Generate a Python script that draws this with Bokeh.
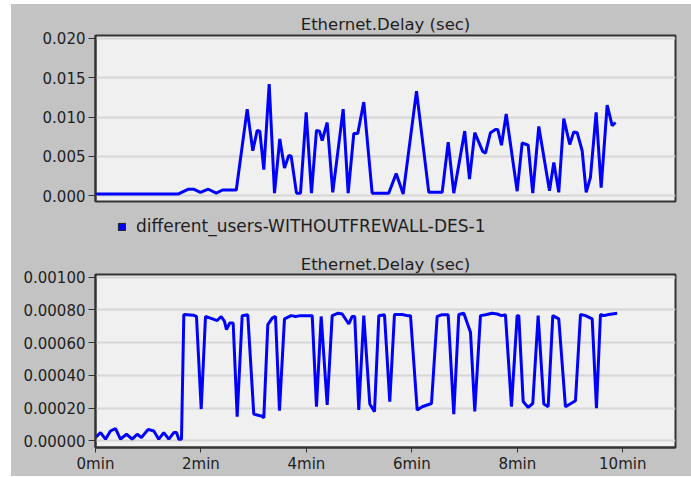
from bokeh.plotting import figure
from bokeh.models import Range1d, FixedTicker, NumeralTickFormatter, Legend, LegendItem
from bokeh.layouts import column
from bokeh.embed import file_html
from bokeh.resources import INLINE

# ---- data (time in minutes) ----
top_time = [0.0, 1.574, 1.764, 1.86, 1.99, 2.14, 2.29, 2.41, 2.67,
            2.877, 2.983, 3.067, 3.116, 3.192, 3.294, 3.395, 3.495, 3.584, 3.666, 3.711,
            3.812, 3.888, 3.996, 4.096, 4.191, 4.248, 4.299, 4.394, 4.500, 4.697,
            4.792, 4.899, 4.974, 5.088, 5.247, 5.562, 5.703, 5.835, 6.088, 6.321,
            6.575, 6.689, 6.795, 7.003, 7.093, 7.193, 7.269, 7.345, 7.396, 7.491,
            7.586, 7.63, 7.700, 7.789, 7.997, 8.092, 8.206, 8.293, 8.407, 8.610,
            8.692, 8.786, 8.881, 8.995, 9.071, 9.135, 9.230, 9.306, 9.387, 9.495,
            9.590, 9.704, 9.799, 9.862]
top_delay = [0.0002, 0.0002, 0.0008, 0.0008, 0.0004, 0.0008, 0.0003, 0.0007, 0.0007,
             0.0110, 0.0057, 0.0083, 0.0082, 0.0033, 0.0142, 0.0003, 0.0072, 0.0035, 0.0051, 0.0050,
             0.0003, 0.0003, 0.0106, 0.0003, 0.0083, 0.0082, 0.0070, 0.0093, 0.0004, 0.0110,
             0.0003, 0.0079, 0.0079, 0.0119, 0.0003, 0.0003, 0.0028, 0.0002, 0.0133, 0.0004,
             0.0004, 0.0068, 0.0003, 0.0082, 0.0021, 0.0080, 0.0068, 0.0056, 0.0054, 0.0080,
             0.0084, 0.0084, 0.0064, 0.0104, 0.00055, 0.0067, 0.0064, 0.0003, 0.0088, 0.0006,
             0.0042, 0.0004, 0.0098, 0.0065, 0.0081, 0.0080, 0.0057, 0.0004, 0.0023, 0.0106,
             0.0010, 0.0115, 0.0089, 0.0093]

bottom_time = [0.0, 0.095, 0.19, 0.284, 0.379, 0.474, 0.588, 0.696, 0.791, 0.872,
               0.999, 1.106, 1.200, 1.295, 1.390, 1.485, 1.536, 1.580, 1.631, 1.675,
               1.864, 1.915, 2.005, 2.086, 2.181, 2.308, 2.384, 2.446, 2.484, 2.547,
               2.611, 2.687, 2.782, 2.888, 3.002, 3.161, 3.192, 3.268, 3.351, 3.414,
               3.489, 3.584, 3.711, 3.793, 3.888, 4.110, 4.191, 4.280, 4.394, 4.489,
               4.603, 4.679, 4.804, 4.868, 4.917, 4.993, 5.088, 5.202, 5.291, 5.373,
               5.481, 5.581, 5.670, 5.816, 5.911, 5.974, 6.101, 6.196, 6.372, 6.480,
               6.562, 6.689, 6.795, 6.890, 6.985, 7.112, 7.193, 7.301, 7.396, 7.523,
               7.618, 7.700, 7.775, 7.889, 7.997, 8.028, 8.111, 8.206, 8.293, 8.395,
               8.502, 8.585, 8.673, 8.786, 8.913, 9.103, 9.198, 9.293, 9.420, 9.501,
               9.577, 9.640, 9.734, 9.894]
bottom_delay = [0.00002, 0.00005, 0.00001, 0.00006, 0.000075, 0.00001, 0.00004, 0.00001, 0.00004, 0.00002,
                0.00007, 0.00006, 0.00001, 0.00005, 0.00001, 0.00005, 0.00005, 0.00001, 0.00001, 0.000772,
                0.000767, 0.00076, 0.000194, 0.00076, 0.00075, 0.000735, 0.00076, 0.00073, 0.00068, 0.00072,
                0.00072, 0.000147, 0.000765, 0.00077, 0.000163, 0.00015, 0.00014, 0.00071, 0.00075, 0.00076,
                0.000184, 0.000745, 0.000765, 0.00076, 0.000765, 0.000765, 0.000208, 0.00076, 0.00022, 0.000765,
                0.00078, 0.000775, 0.000714, 0.00076, 0.00076, 0.000188, 0.000765, 0.000225, 0.000178, 0.000765,
                0.00077, 0.000239, 0.000772, 0.000772, 0.000765, 0.000765, 0.000188, 0.000208, 0.000228, 0.00076,
                0.00077, 0.00077, 0.000163, 0.000772, 0.00078, 0.000663, 0.00018, 0.000765, 0.00077, 0.00078,
                0.000775, 0.000765, 0.00077, 0.000208, 0.000765, 0.000765, 0.00024, 0.000204, 0.000228, 0.000765,
                0.000225, 0.000208, 0.000765, 0.000745, 0.000208, 0.000245, 0.000772, 0.000765, 0.000745, 0.0002,
                0.000772, 0.000765, 0.000772, 0.00078]

x_ticks = [0, 2, 4, 6, 8, 10]
x_tick_labels = ["0min", "2min", "4min", "6min", "8min", "10min"]
top_y_ticks = [0.0, 0.005, 0.010, 0.015, 0.020]
bottom_y_ticks = [0.0, 0.0002, 0.0004, 0.0006, 0.0008, 0.0010]
title_text = "Ethernet.Delay (sec)"
series_name = "different_users-WITHOUTFREWALL-DES-1"

# ---- style ----
FONT = "DejaVu Sans"
FS = "15px"
FS_TITLE = "16.5px"
FS_LEG = "17px"
TXT = "#1e1e1e"
BORDER = "#c3c3c3"
PLOTBG = "#f0f0f0"
GRID = "#d6d6d6"
AXIS = "#333333"
BLUE = "#0000ff"


def style(p, ticks, fmt):
    p.background_fill_color = PLOTBG
    p.border_fill_color = BORDER
    p.outline_line_color = AXIS
    p.outline_line_width = 2
    p.title.text_font = FONT
    p.title.text_font_size = FS_TITLE
    p.title.text_font_style = "normal"
    p.title.text_color = TXT
    p.title.align = "center"
    p.yaxis.ticker = FixedTicker(ticks=ticks)
    p.yaxis.formatter = NumeralTickFormatter(format=fmt)
    p.yaxis.major_label_text_font = FONT
    p.yaxis.major_label_text_font_size = FS
    p.yaxis.major_label_text_color = TXT
    p.yaxis.axis_line_color = AXIS
    p.yaxis.axis_line_width = 2
    p.yaxis.major_tick_line_color = AXIS
    p.yaxis.major_tick_out = 7
    p.yaxis.major_tick_in = 0
    p.yaxis.minor_tick_line_color = None
    p.yaxis.major_label_standoff = 3
    p.ygrid.grid_line_color = GRID
    p.ygrid.grid_line_width = 2
    p.xgrid.grid_line_color = None


# ---- top figure ----
top = figure(width=680, height=203, output_backend="svg", toolbar_location=None,
             x_range=Range1d(0, 11), y_range=Range1d(-0.000764, 0.020382),
             x_axis_location=None, title=title_text,
             min_border_left=84, min_border_right=16, min_border_top=31, min_border_bottom=6)
style(top, top_y_ticks, "0.000")
top.title.standoff = 3
top.line(top_time, top_delay, line_color=BLUE, line_width=3)

# ---- legend strip (swatch renderer sits outside its visible range) ----
leg = figure(width=680, height=45, output_backend="svg", toolbar_location=None,
             x_range=Range1d(0, 11), y_range=Range1d(1, 2),
             x_axis_location=None, y_axis_location=None,
             min_border_left=84, min_border_right=16, min_border_top=0, min_border_bottom=0)
leg.background_fill_color = BORDER
leg.border_fill_color = BORDER
leg.outline_line_color = None
leg.xgrid.grid_line_color = None
leg.ygrid.grid_line_color = None
swatch = leg.quad(left=top_time[:1], right=top_time[:1], top=top_delay[:1], bottom=top_delay[:1],
                  fill_color=BLUE, line_color="#202020", line_width=1)
legend = Legend(items=[LegendItem(label=series_name, renderers=[swatch])],
                location=(22, 16), orientation="horizontal",
                background_fill_alpha=0, border_line_color=None,
                padding=0, margin=0, spacing=0,
                glyph_width=9, glyph_height=9, label_standoff=10, label_height=9,
                label_text_font=FONT, label_text_font_size=FS_LEG, label_text_color=TXT)
leg.add_layout(legend, "center")

# ---- bottom figure ----
bot = figure(width=680, height=224, output_backend="svg", toolbar_location=None,
             x_range=Range1d(0, 11), y_range=Range1d(-0.000041, 0.0010165),
             title=title_text,
             min_border_left=84, min_border_right=16, min_border_top=22, min_border_bottom=29)
style(bot, bottom_y_ticks, "0.00000")
bot.title.standoff = 1
bot.xaxis.ticker = FixedTicker(ticks=x_ticks)
bot.xaxis.major_label_overrides = {t: l for t, l in zip(x_ticks, x_tick_labels)}
bot.xaxis.major_label_text_font = FONT
bot.xaxis.major_label_text_font_size = FS
bot.xaxis.major_label_text_color = TXT
bot.xaxis.axis_line_color = AXIS
bot.xaxis.axis_line_width = 2
bot.xaxis.major_tick_line_color = AXIS
bot.xaxis.major_tick_out = 5
bot.xaxis.major_tick_in = 0
bot.xaxis.minor_tick_line_color = None
bot.xaxis.major_label_standoff = 2
bot.line(bottom_time, bottom_delay, line_color=BLUE, line_width=3)

layout = column(top, leg, bot, spacing=0,
                styles={"margin-left": "11px", "margin-top": "4px", "background-color": BORDER})
open("out.html", "w").write(file_html(layout, INLINE))
